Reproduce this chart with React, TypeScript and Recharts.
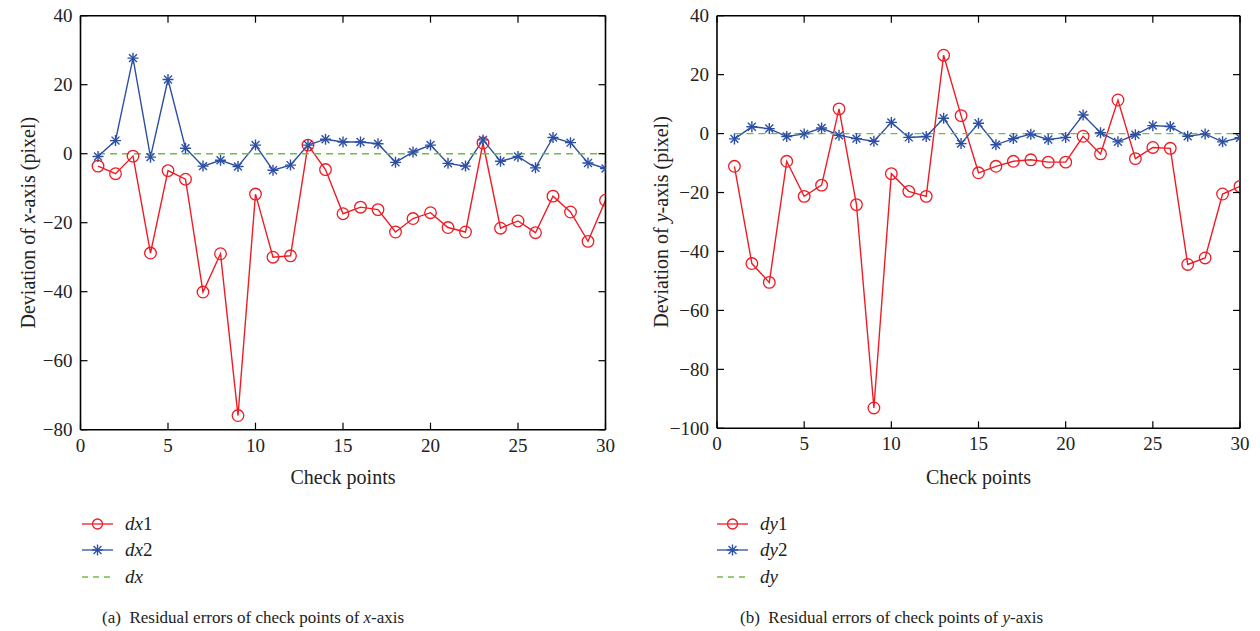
import React from 'react';
import { LineChart, Line, XAxis, YAxis } from 'recharts';

const checkPoints = [1,2,3,4,5,6,7,8,9,10,11,12,13,14,15,16,17,18,19,20,21,22,23,24,25,26,27,28,29,30];
const dx1 = [-3.6,-5.8,-0.7,-28.8,-4.9,-7.4,-40.1,-29.0,-75.9,-11.7,-30.0,-29.6,2.5,-4.6,-17.4,-15.5,-16.2,-22.7,-18.8,-17.1,-21.4,-22.7,3.1,-21.6,-19.5,-22.9,-12.3,-16.9,-25.4,-13.5];
const dx2 = [-0.8,3.8,27.7,-1.0,21.5,1.6,-3.6,-1.9,-3.7,2.5,-4.8,-3.3,2.5,4.2,3.4,3.4,2.9,-2.5,0.5,2.5,-2.8,-3.6,4.0,-2.2,-0.8,-4.1,4.7,3.2,-2.7,-4.3];
const dx = [0,0,0,0,0,0,0,0,0,0,0,0,0,0,0,0,0,0,0,0,0,0,0,0,0,0,0,0,0,0];
const dy1 = [-11.1,-44.1,-50.5,-9.4,-21.3,-17.5,8.4,-24.1,-93.1,-13.6,-19.6,-21.3,26.6,6.1,-13.3,-11.1,-9.4,-8.9,-9.7,-9.7,-0.9,-6.9,11.4,-8.5,-4.7,-5.0,-44.4,-42.2,-20.5,-17.9];
const dy2 = [-1.8,2.3,1.7,-1.0,-0.1,1.9,-0.6,-1.7,-2.6,3.8,-1.3,-1.0,5.2,-3.4,3.5,-3.8,-1.7,-0.2,-2.0,-1.3,6.3,0.3,-2.8,-0.4,2.7,2.4,-0.9,-0.1,-2.8,-1.4];
const dy = [0,0,0,0,0,0,0,0,0,0,0,0,0,0,0,0,0,0,0,0,0,0,0,0,0,0,0,0,0,0];
const xTicks = [0,5,10,15,20,25,30];
const yTicksA = [-80,-60,-40,-20,0,20,40];
const yTicksB = [-100,-80,-60,-40,-20,0,20,40];

const RED = '#ee1c25';
const BLUE = '#2c4fa3';
const GREEN = '#6fbe44';
const FONT = '"Liberation Serif", "DejaVu Serif", serif';
const TXT = { fontFamily: FONT };

const dataA = checkPoints.map((x, i) => ({ x, s1: dx1[i], s2: dx2[i], s0: dx[i] }));
const dataB = checkPoints.map((x, i) => ({ x, s1: dy1[i], s2: dy2[i], s0: dy[i] }));

const fmt = (v: number) => (v < 0 ? '\u2212' + Math.abs(v) : String(v));
const TL = 7;

const BottomTick = (p: any) => (
  <g>
    <line x1={p.x} y1={p.y} x2={p.x} y2={p.y - TL} stroke="#000" strokeWidth={1.2} />
    <text x={p.x} y={p.y + 22} textAnchor="middle" style={TXT} fontSize={19} fill="#222">{fmt(p.payload.value)}</text>
  </g>
);
const LeftTick = (p: any) => (
  <g>
    <line x1={p.x} y1={p.y} x2={p.x + TL} y2={p.y} stroke="#000" strokeWidth={1.2} />
    <text x={p.x - 8} y={p.y + 6.5} textAnchor="end" style={TXT} fontSize={19} fill="#222">{fmt(p.payload.value)}</text>
  </g>
);
const TopTick = (p: any) => (
  <line x1={p.x} y1={p.y} x2={p.x} y2={p.y + TL} stroke="#000" strokeWidth={1.2} />
);
const RightTick = (p: any) => (
  <line x1={p.x} y1={p.y} x2={p.x - TL} y2={p.y} stroke="#000" strokeWidth={1.2} />
);

const Star = (p: any) => {
  const { cx, cy } = p;
  if (cx == null || cy == null) return null;
  const r = 5.5;
  const d = r * 0.72;
  return (
    <g stroke={BLUE} strokeWidth={1.4}>
      <line x1={cx - r} y1={cy} x2={cx + r} y2={cy} />
      <line x1={cx} y1={cy - r} x2={cx} y2={cy + r} />
      <line x1={cx - d} y1={cy - d} x2={cx + d} y2={cy + d} />
      <line x1={cx - d} y1={cy + d} x2={cx + d} y2={cy - d} />
    </g>
  );
};

type PanelProps = {
  left: number;
  data: any[];
  yTicks: number[];
  plot: { top: number; right: number; bottom: number; left: number };
  v: string;
  tag: string;
  labelX: number;
  legendX: number;
  captionX: number;
};

const Panel = ({ left, data, yTicks, plot, v, tag, labelX, legendX, captionX }: PanelProps) => {
  const W = 630;
  const H = 460;
  const margin = { top: plot.top - 1, right: W - plot.right - 1, bottom: H - plot.bottom - 1, left: plot.left - 1 };
  const domain: [number, number] = [yTicks[0], yTicks[yTicks.length - 1]];
  const plotCx = (plot.left + plot.right) / 2;
  const plotCy = (plot.top + plot.bottom) / 2;
  const axisStyle = { stroke: '#000', strokeWidth: 1.6 };
  const legendRows = [
    { y: 524, name: '1', kind: 'circle' },
    { y: 550, name: '2', kind: 'star' },
    { y: 577, name: '', kind: 'dash' },
  ];
  return (
    <div style={{ position: 'absolute', left, top: 0, width: W, height: 631 }}>
      <LineChart width={W} height={H} data={data} margin={margin}>
        <XAxis dataKey="x" type="number" domain={[0, 30]} ticks={xTicks} interval={0} height={1}
          tickSize={0} tickMargin={0} tickLine={false} axisLine={axisStyle} tick={<BottomTick />} allowDataOverflow />
        <XAxis xAxisId="top" orientation="top" dataKey="x" type="number" domain={[0, 30]} ticks={xTicks} interval={0} height={1}
          tickSize={0} tickMargin={0} tickLine={false} axisLine={axisStyle} tick={<TopTick />} allowDataOverflow />
        <YAxis type="number" domain={domain} ticks={yTicks} interval={0} width={1}
          tickSize={0} tickMargin={0} tickLine={false} axisLine={axisStyle} tick={<LeftTick />} allowDataOverflow />
        <YAxis yAxisId="right" orientation="right" type="number" domain={domain} ticks={yTicks} interval={0} width={1}
          tickSize={0} tickMargin={0} tickLine={false} axisLine={axisStyle} tick={<RightTick />} allowDataOverflow />
        <Line type="linear" dataKey="s1" stroke={RED} strokeWidth={1.4} isAnimationActive={false}
          dot={{ r: 5.8, fill: 'none', stroke: RED, strokeWidth: 1.3 }} activeDot={false} />
        <Line type="linear" dataKey="s2" stroke={BLUE} strokeWidth={1.4} isAnimationActive={false}
          dot={<Star />} activeDot={false} />
        <Line type="linear" dataKey="s0" stroke={GREEN} strokeWidth={1.4} strokeDasharray="7 5" isAnimationActive={false}
          dot={false} activeDot={false} />
      </LineChart>
      <svg width={W} height={631} style={{ position: 'absolute', left: 0, top: 0, pointerEvents: 'none' }}>
        <text transform={`translate(${labelX},${plotCy}) rotate(-90)`} textAnchor="middle" style={TXT} fontSize={20} fill="#222">
          Deviation of <tspan fontStyle="italic">{v}</tspan>-axis (pixel)
        </text>
        <text x={plotCx} y={484} textAnchor="middle" style={TXT} fontSize={20} fill="#222">Check points</text>
        {legendRows.map((r) => (
          <g key={r.kind}>
            {r.kind === 'dash' ? (
              <line x1={legendX} y1={r.y} x2={legendX + 31} y2={r.y} stroke={GREEN} strokeWidth={1.3} strokeDasharray="6 5" />
            ) : (
              <line x1={legendX} y1={r.y} x2={legendX + 31} y2={r.y} stroke={r.kind === 'circle' ? RED : BLUE} strokeWidth={1.3} />
            )}
            {r.kind === 'circle' && <circle cx={legendX + 15.5} cy={r.y} r={5} fill="none" stroke={RED} strokeWidth={1.3} />}
            {r.kind === 'star' && <Star cx={legendX + 15.5} cy={r.y} />}
            <text x={legendX + 43} y={r.y + 6} style={TXT} fontSize={19} fill="#222">
              <tspan fontStyle="italic">d{v}</tspan>{r.name}
            </text>
          </g>
        ))}
        <text x={captionX} y={623} style={TXT} fontSize={17} fill="#222" xmlSpace="preserve">
          ({tag})  Residual errors of check points of <tspan fontStyle="italic">{v}</tspan>-axis
        </text>
      </svg>
    </div>
  );
};

export default function App() {
  return (
    <div style={{ position: 'absolute', left: 0, top: 0, width: 1260, height: 631, background: '#fff' }}>
      <Panel left={0} data={dataA} yTicks={yTicksA}
        plot={{ top: 15.7, right: 605.5, bottom: 429.7, left: 80.5 }}
        v="x" tag="a" labelX={35} legendX={82} captionX={102} />
      <Panel left={630} data={dataB} yTicks={yTicksB}
        plot={{ top: 15.7, right: 610, bottom: 428.3, left: 87 }}
        v="y" tag="b" labelX={38} legendX={87} captionX={110} />
    </div>
  );
}
